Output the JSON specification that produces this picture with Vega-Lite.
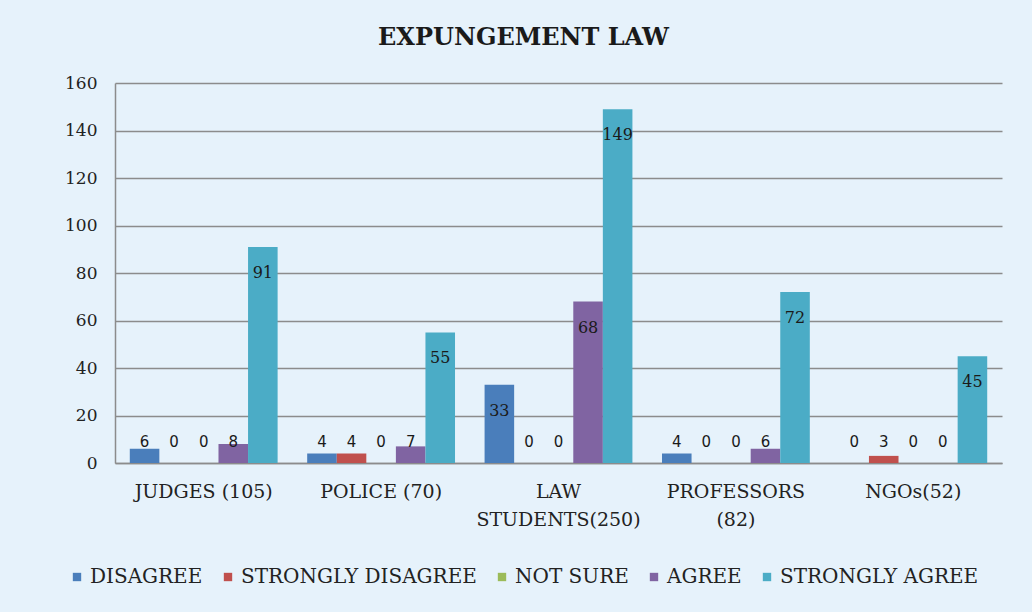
{
  "$schema": "https://vega.github.io/schema/vega-lite/v6.json",
  "width": 887,
  "height": 380,
  "autosize": {"type": "none"},
  "padding": {"left": 115, "top": 83, "right": 30, "bottom": 149},
  "background": "#e6f2fb",
  "title": {
    "text": "EXPUNGEMENT LAW",
    "font": "DejaVu Serif",
    "fontSize": 24,
    "fontWeight": "bold",
    "color": "#1a1a1a",
    "anchor": "middle",
    "offset": 24,
    "dx": -35
  },
  "data": {
    "values": [
      {"group": "JUDGES (105)", "response": "DISAGREE", "value": 6},
      {"group": "JUDGES (105)", "response": "STRONGLY DISAGREE", "value": 0},
      {"group": "JUDGES (105)", "response": "NOT SURE", "value": 0},
      {"group": "JUDGES (105)", "response": "AGREE", "value": 8},
      {"group": "JUDGES (105)", "response": "STRONGLY AGREE", "value": 91},
      {"group": "POLICE (70)", "response": "DISAGREE", "value": 4},
      {"group": "POLICE (70)", "response": "STRONGLY DISAGREE", "value": 4},
      {"group": "POLICE (70)", "response": "NOT SURE", "value": 0},
      {"group": "POLICE (70)", "response": "AGREE", "value": 7},
      {"group": "POLICE (70)", "response": "STRONGLY AGREE", "value": 55},
      {"group": "LAW STUDENTS(250)", "response": "DISAGREE", "value": 33},
      {"group": "LAW STUDENTS(250)", "response": "STRONGLY DISAGREE", "value": 0},
      {"group": "LAW STUDENTS(250)", "response": "NOT SURE", "value": 0},
      {"group": "LAW STUDENTS(250)", "response": "AGREE", "value": 68},
      {"group": "LAW STUDENTS(250)", "response": "STRONGLY AGREE", "value": 149},
      {"group": "PROFESSORS (82)", "response": "DISAGREE", "value": 4},
      {"group": "PROFESSORS (82)", "response": "STRONGLY DISAGREE", "value": 0},
      {"group": "PROFESSORS (82)", "response": "NOT SURE", "value": 0},
      {"group": "PROFESSORS (82)", "response": "AGREE", "value": 6},
      {"group": "PROFESSORS (82)", "response": "STRONGLY AGREE", "value": 72},
      {"group": "NGOs(52)", "response": "DISAGREE", "value": 0},
      {"group": "NGOs(52)", "response": "STRONGLY DISAGREE", "value": 3},
      {"group": "NGOs(52)", "response": "NOT SURE", "value": 0},
      {"group": "NGOs(52)", "response": "AGREE", "value": 0},
      {"group": "NGOs(52)", "response": "STRONGLY AGREE", "value": 45}
    ]
  },
  "encoding": {
    "x": {
      "field": "group",
      "type": "nominal",
      "sort": null,
      "scale": {"paddingInner": 0, "paddingOuter": 0},
      "axis": {
        "title": null,
        "labelAngle": 0,
        "labelFont": "DejaVu Serif",
        "labelFontSize": 19,
        "labelColor": "#222222",
        "labelPadding": 19,
        "labelLineHeight": 28,
        "labelLimit": 0,
        "ticks": false,
        "domainColor": "#8c8c8c",
        "domainWidth": 1.5,
        "labelExpr": "datum.value == 'LAW STUDENTS(250)' ? ['LAW', 'STUDENTS(250)'] : datum.value == 'PROFESSORS (82)' ? ['PROFESSORS', '(82)'] : datum.value"
      }
    },
    "xOffset": {
      "field": "response",
      "type": "nominal",
      "sort": ["DISAGREE", "STRONGLY DISAGREE", "NOT SURE", "AGREE", "STRONGLY AGREE"],
      "scale": {"paddingInner": 0, "paddingOuter": 0.5}
    }
  },
  "layer": [
    {
      "mark": {"type": "bar"},
      "encoding": {
        "y": {
          "field": "value",
          "type": "quantitative",
          "scale": {"domain": [0, 160]},
          "axis": {
            "title": null,
            "values": [0, 20, 40, 60, 80, 100, 120, 140, 160],
            "labelFont": "DejaVu Serif",
            "labelFontSize": 17,
            "labelColor": "#222222",
            "labelPadding": 18,
            "ticks": false,
            "grid": true,
            "gridColor": "#8c8c8c",
            "gridWidth": 1.5,
            "domain": true,
            "domainColor": "#8c8c8c",
            "domainWidth": 1.5
          }
        },
        "color": {
          "field": "response",
          "type": "nominal",
          "sort": ["DISAGREE", "STRONGLY DISAGREE", "NOT SURE", "AGREE", "STRONGLY AGREE"],
          "scale": {
            "domain": ["DISAGREE", "STRONGLY DISAGREE", "NOT SURE", "AGREE", "STRONGLY AGREE"],
            "range": ["#4a7ebb", "#c0504d", "#9bbb59", "#8064a2", "#4bacc6"]
          },
          "legend": {
            "title": null,
            "orient": "none",
            "direction": "horizontal",
            "columns": 5,
            "legendX": -48,
            "legendY": 484,
            "symbolType": "square",
            "symbolSize": 70,
            "symbolStrokeWidth": 0,
            "symbolOpacity": 1,
            "labelFont": "DejaVu Serif",
            "labelFontSize": 20,
            "labelLimit": 0,
            "labelColor": "#222222",
            "labelOffset": 3,
            "columnPadding": 15
          }
        }
      }
    },
    {
      "transform": [{"filter": "datum.value >= 20"}],
      "mark": {"type": "text", "baseline": "middle", "dy": 26, "font": "DejaVu Serif", "fontSize": 16, "color": "#1a1a1a"},
      "encoding": {
        "y": {"field": "value", "type": "quantitative"},
        "text": {"field": "value", "type": "quantitative"}
      }
    },
    {
      "transform": [{"filter": "datum.value < 20"}],
      "mark": {"type": "text", "baseline": "middle", "dy": -21, "font": "DejaVu Sans", "fontSize": 15, "color": "#1a1a1a"},
      "encoding": {
        "y": {"datum": 0, "type": "quantitative"},
        "text": {"field": "value", "type": "quantitative"}
      }
    }
  ],
  "config": {
    "view": {"stroke": null}
  }
}
